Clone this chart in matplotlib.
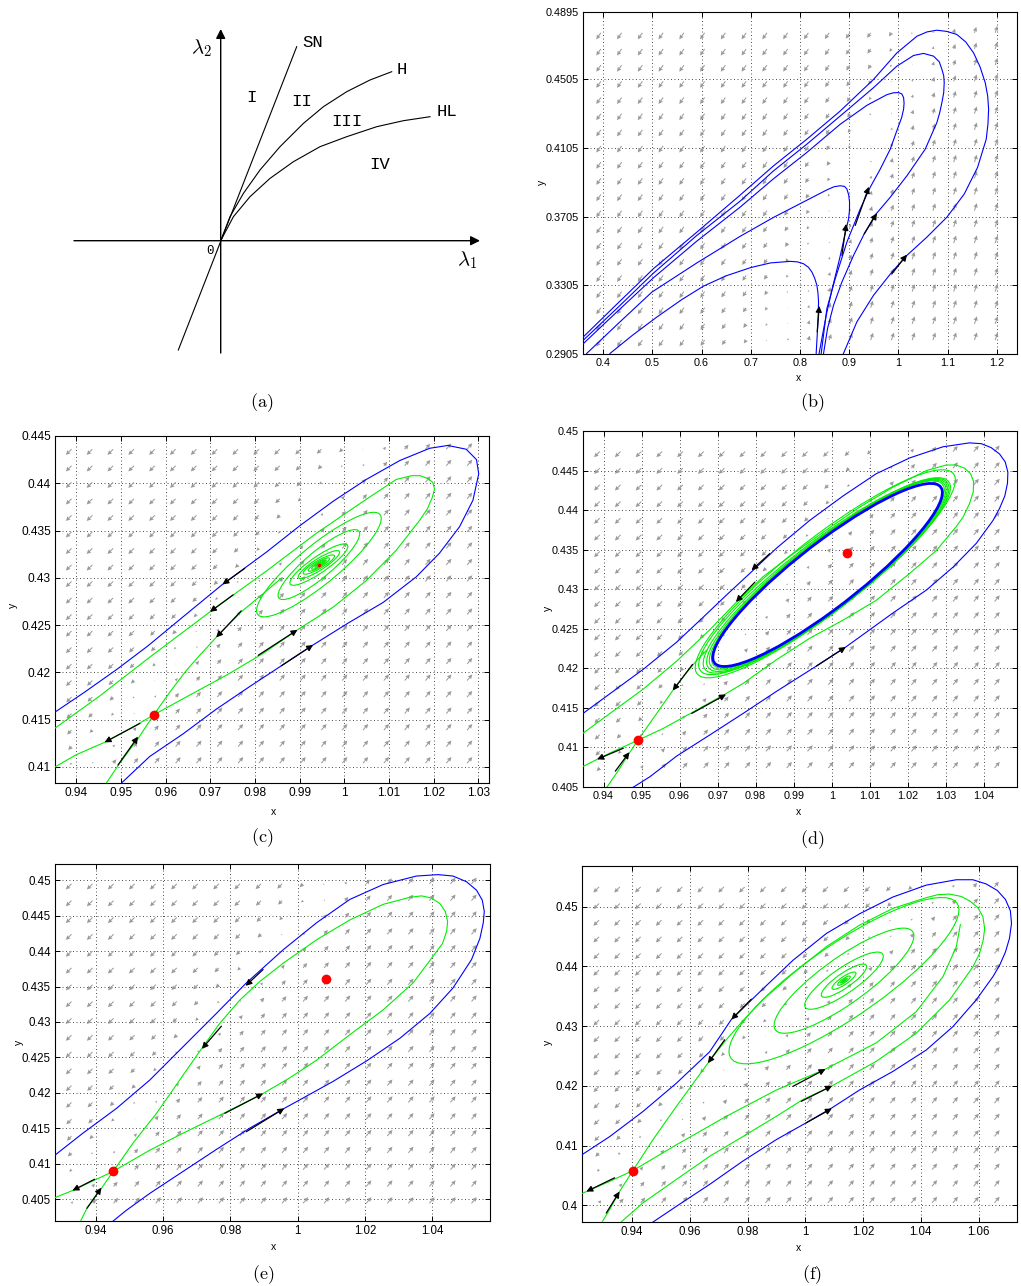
#!/usr/bin/env python3
import numpy as np
import matplotlib as mpl
import matplotlib.pyplot as plt
from matplotlib.patches import Ellipse

# ===== style =====
mpl.rcParams.update({
    "font.family": ["Liberation Sans", "DejaVu Sans"],
    "mathtext.fontset": "cm",
    "axes.linewidth": 0.8,
    "xtick.direction": "in",
    "ytick.direction": "in",
    "xtick.top": True,
    "ytick.right": True,
    "xtick.major.size": 3.5,
    "ytick.major.size": 3.5,
    "xtick.major.width": 0.7,
    "ytick.major.width": 0.7,
})

W_PX, H_PX = 1021, 1286
BLUE, GREEN, RED, FIELD = "#0000ff", "#00ee00", "#ff0000", "#9a9a9a"

# ===== (a) bifurcation diagram, lambda units =====
A_SN_L1 = [-0.424, 0.76]
A_SN_L2 = [-1.093, 1.94]
A_H_L1 = [0.0, 0.093, 0.227, 0.393, 0.593, 0.827, 1.027, 1.26, 1.493, 1.71]
A_H_L2 = [0.0, 0.24, 0.473, 0.707, 0.94, 1.173, 1.34, 1.49, 1.607, 1.69]
A_HL_L1 = [0.0, 0.127, 0.293, 0.493, 0.727, 0.993, 1.26, 1.56, 1.827, 2.093]
A_HL_L2 = [0.0, 0.24, 0.44, 0.623, 0.79, 0.94, 1.04, 1.14, 1.2, 1.24]
A_AXIS_L1 = [-1.467, 2.593]
A_AXIS_L2 = [-1.123, 2.117]
A_CURVE_NAMES = ["SN", "H", "HL"]
A_CURVE_L1 = [0.918, 1.81, 2.26]
A_CURVE_L2 = [1.98, 1.714, 1.29]
A_REGIONS = ["I", "II", "III", "IV"]
A_REGION_L1 = [0.31, 0.81, 1.26, 1.593]
A_REGION_L2 = [1.43, 1.39, 1.19, 0.764]

# ===== (b) =====
B_A_X = [0.3566, 0.4278, 0.5023, 0.5904, 0.6785, 0.7463, 0.8140, 0.8818, 0.9495, 0.9969, 1.0376,
         1.0580, 1.0782, 1.0985, 1.1189, 1.1370, 1.1528, 1.1660, 1.1765, 1.1815, 1.1833, 1.1820,
         1.1785, 1.1609, 1.1338, 1.0985, 1.0579, 1.0173, 0.9868, 0.9495, 0.9156, 0.8885, 0.8838]
B_A_Y = [0.2996, 0.3195, 0.3402, 0.3614, 0.3830, 0.4000, 0.4155, 0.4319, 0.4503, 0.4657, 0.4754,
         0.4779, 0.4789, 0.4782, 0.4764, 0.4720, 0.4657, 0.4575, 0.4483, 0.4405, 0.4329, 0.4245,
         0.4155, 0.3991, 0.3836, 0.3701, 0.3585, 0.3479, 0.3382, 0.3247, 0.3092, 0.2909, 0.2870]
B_B_X = [0.3566, 0.4278, 0.5023, 0.5904, 0.6785, 0.7463, 0.8140, 0.8818, 0.9495, 0.9969, 1.0308,
         1.0511, 1.0715, 1.0830, 1.0884, 1.0920, 1.0931, 1.0920, 1.0884, 1.0840, 1.0782, 1.0545,
         1.0173, 0.9834, 0.9529, 0.9305, 0.9089, 0.8852, 0.8682, 0.8560, 0.8479, 0.8465]
B_B_Y = [0.2977, 0.3170, 0.3376, 0.3595, 0.3795, 0.3971, 0.4126, 0.4290, 0.4455, 0.4580, 0.4642,
         0.4654, 0.4638, 0.4605, 0.4561, 0.4525, 0.4484, 0.4425, 0.4368, 0.4310, 0.4252, 0.4097,
         0.3942, 0.3817, 0.3714, 0.3604, 0.3479, 0.3324, 0.3189, 0.3054, 0.2909, 0.2870]
B_C_X = [0.3566, 0.4278, 0.5023, 0.5904, 0.6785, 0.7463, 0.8140, 0.8818, 0.9360, 0.9766, 0.9900,
         1.0003, 1.0070, 1.0105, 1.0115, 1.0105, 1.0065, 1.0003, 0.9834, 0.9631, 0.9427, 0.9224,
         0.8953, 0.8716, 0.8547, 0.8431, 0.8418]
B_C_Y = [0.2957, 0.3150, 0.3349, 0.3562, 0.3760, 0.3925, 0.4078, 0.4242, 0.4352, 0.4414, 0.4425,
         0.4426, 0.4418, 0.4397, 0.4365, 0.4329, 0.4280, 0.4232, 0.4097, 0.3981, 0.3875, 0.3749,
         0.3556, 0.3343, 0.3170, 0.2909, 0.2870]
B_D_X = [0.3634, 0.3668, 0.4278, 0.4989, 0.5904, 0.6785, 0.7463, 0.8140, 0.8547, 0.8690, 0.8818,
         0.8905, 0.8953, 0.8990, 0.9007, 0.9005, 0.8987, 0.8940, 0.8804, 0.8655, 0.8533, 0.8445, 0.8370]
B_D_Y = [0.2893, 0.2909, 0.3075, 0.3265, 0.3435, 0.3590, 0.3700, 0.3800, 0.3860, 0.3878, 0.3884,
         0.3880, 0.3865, 0.3830, 0.3788, 0.3740, 0.3691, 0.3633, 0.3459, 0.3285, 0.3131, 0.2996, 0.2880]
B_E_X = [0.4108, 0.4142, 0.4600, 0.5091, 0.5600, 0.6039, 0.6500, 0.7000, 0.7400, 0.7801, 0.7950,
         0.8072, 0.8170, 0.8242, 0.8300, 0.8343, 0.8365, 0.8377, 0.8370, 0.8350, 0.8323]
B_E_Y = [0.2893, 0.2909, 0.3015, 0.3120, 0.3222, 0.3300, 0.3360, 0.3408, 0.3435, 0.3444, 0.3441,
         0.3430, 0.3410, 0.3382, 0.3345, 0.3305, 0.3260, 0.3208, 0.3131, 0.3015, 0.2880]
B_ARROW_TAIL_X = [0.8350, 0.8852, 0.9122, 0.9305, 0.9868]
B_ARROW_TAIL_Y = [0.3034, 0.3479, 0.3653, 0.3604, 0.3372]
B_ARROW_HEAD_X = [0.8391, 0.8940, 0.9400, 0.9563, 1.0173]
B_ARROW_HEAD_Y = [0.3185, 0.3662, 0.3878, 0.3724, 0.3483]
B_YTICKS = [0.2905, 0.3305, 0.3705, 0.4105, 0.4505, 0.4895]

# ===== (c) =====
C_BLUE_X = [0.9340, 0.9352, 0.9415, 0.9490, 0.9560, 0.9642, 0.9727, 0.9825, 0.9900, 0.9975, 1.0049,
            1.0124, 1.0191, 1.0232, 1.0273, 1.0296, 1.0301, 1.0288, 1.0258, 1.0213, 1.0161, 1.0087,
            1.0008, 0.9930, 0.9859, 0.9788, 0.9713, 0.9639, 0.9564, 0.9501, 0.9490]
C_BLUE_Y = [0.4155, 0.4158, 0.4178, 0.4203, 0.4228, 0.4260, 0.4293, 0.4327, 0.4355, 0.4381,
            0.4404, 0.4424, 0.4437, 0.4440, 0.4436, 0.4425, 0.4410, 0.4382, 0.4354, 0.4326, 0.4301,
            0.4274, 0.4252, 0.4229, 0.4207, 0.4185, 0.4161, 0.4135, 0.4111, 0.4083, 0.4075]
C_OUTER_X = [0.9573, 0.9646, 0.9736, 0.9818, 0.9895, 0.9975, 1.0049, 1.0116, 1.0169, 1.0186, 1.0197,
             1.0202, 1.0198, 1.0187, 1.0170, 1.0150, 1.0116, 1.0049, 0.9937, 0.9825, 0.9699, 0.9564,
             0.9452, 0.9352, 0.9340]
C_OUTER_Y = [0.4155, 0.4174, 0.4197, 0.4220, 0.4245, 0.4269, 0.4297, 0.4329, 0.4361, 0.4373, 0.4385,
             0.4394, 0.4401, 0.4405, 0.4408, 0.4408, 0.4404, 0.4383, 0.4347, 0.4307, 0.4264, 0.4216,
             0.4175, 0.4141, 0.4136]
C_INNER_X = [0.9860, 0.9810, 0.9769, 0.9713, 0.9676, 0.9646, 0.9609, 0.9573]
C_INNER_Y = [0.4300, 0.4280, 0.4264, 0.4237, 0.4218, 0.4202, 0.4179, 0.4155]
C_LEFT_X = [0.9573, 0.9526, 0.9463, 0.9400, 0.9352, 0.9340]
C_LEFT_Y = [0.4155, 0.4142, 0.4126, 0.4113, 0.4100, 0.4097]
C_BOTTOM_X = [0.9456, 0.9467, 0.9497, 0.9538, 0.9573]
C_BOTTOM_Y = [0.4075, 0.4083, 0.4104, 0.4130, 0.4155]
C_FOCUS = (0.9943, 0.4314)
C_SADDLE = (0.9573, 0.4155)
C_LOOP_W = [0.01396, 0.00914, 0.00649, 0.00463, 0.00351, 0.00239, 0.00164, 0.0009, 0.00052]
C_LOOP_H = [0.00553, 0.00370, 0.00219, 0.00148, 0.00102, 0.000705, 0.000493, 0.00028, 0.00014]
C_LOOP_R = 0.88
C_ARROW_TAIL_X = [0.9777, 0.9751, 0.9769, 0.9807, 0.9859, 0.9542, 0.9493]
C_ARROW_TAIL_Y = [0.4310, 0.4282, 0.4265, 0.4218, 0.4207, 0.4146, 0.4102]
C_ARROW_HEAD_X = [0.9727, 0.9699, 0.9713, 0.9895, 0.9930, 0.9463, 0.9538]
C_ARROW_HEAD_Y = [0.4293, 0.4264, 0.4237, 0.4245, 0.4229, 0.4126, 0.4132]

# ===== (d) =====
D_BLUE_X = [0.9330, 0.9346, 0.9417, 0.9505, 0.9592, 0.9654, 0.9724, 0.9789, 0.9855, 0.9942, 1.0030,
            1.0117, 1.0205, 1.0292, 1.0362, 1.0393, 1.0419, 1.0441, 1.0456, 1.0463, 1.0462, 1.0455,
            1.0441, 1.0424, 1.0380, 1.0319, 1.0249, 1.0161, 1.0037, 0.9960, 0.9855, 0.9767, 0.9680,
            0.9592, 0.9522, 0.9479, 0.9461]
D_BLUE_Y = [0.4138, 0.4143, 0.4168, 0.4199, 0.4233, 0.4261, 0.4293, 0.4322, 0.4352, 0.4387, 0.4418,
            0.4446, 0.4466, 0.4480, 0.4485, 0.4484, 0.4479, 0.4471, 0.4461, 0.4448, 0.4434, 0.4418,
            0.4402, 0.4387, 0.4358, 0.4328, 0.4299, 0.4270, 0.4227, 0.4203, 0.4171, 0.4143, 0.4116,
            0.4089, 0.4063, 0.4050, 0.4045]
D_OUTER_X = [0.9330, 0.9346, 0.9417, 0.9505, 0.9592, 0.9680, 0.9750, 0.9820, 0.9899, 0.9986, 1.0074,
             1.0161, 1.0249, 1.0301, 1.0327, 1.0349, 1.0365, 1.0373, 1.0372, 1.0362, 1.0345, 1.0327,
             1.0275, 1.0205, 1.0117, 1.0030, 0.9942, 0.9855, 0.9767, 0.9722, 0.9636, 0.9557, 0.9490]
D_OUTER_Y = [0.4113, 0.4118, 0.4143, 0.4174, 0.4209, 0.4249, 0.4284, 0.4316, 0.4345, 0.4375, 0.4404,
             0.4429, 0.4450, 0.4457, 0.4457, 0.4453, 0.4446, 0.4436, 0.4423, 0.4408, 0.4391, 0.4379,
             0.4349, 0.4320, 0.4286, 0.4261, 0.4238, 0.4211, 0.4181, 0.4168, 0.4145, 0.4124, 0.4109]
D_INNER_X = [0.9490, 0.9531, 0.9582, 0.9619, 0.9645, 0.9671]
D_INNER_Y = [0.4109, 0.4137, 0.4172, 0.4195, 0.4210, 0.4223]
D_LEFT_X = [0.9490, 0.9417, 0.9346, 0.9330]
D_LEFT_Y = [0.4109, 0.4093, 0.4076, 0.4072]
D_BOTTOM_X = [0.9409, 0.9435, 0.9468, 0.9490]
D_BOTTOM_Y = [0.4050, 0.4068, 0.4093, 0.4109]
D_SADDLE = (0.9490, 0.4109)
D_FOCUS = (1.0039, 0.4346)
D_CYCLE = (0.9989, 0.4318, 0.03018, 0.01157)
D_LOOP_CX = [0.9990, 0.9989, 0.99875, 0.9985, 0.9981, 0.9983]
D_LOOP_CY = [0.43185, 0.4318, 0.43175, 0.4317, 0.43165, 0.43195]
D_LOOP_W = [0.0306, 0.0311, 0.03165, 0.0323, 0.0331, 0.0342]
D_LOOP_H = [0.01185, 0.0120, 0.01215, 0.0123, 0.01245, 0.01315]
D_LOOP_R = 0.9
D_ARROW_TAIL_X = [0.9837, 0.9798, 0.9634, 0.9632, 0.9960, 0.9452, 0.9431]
D_ARROW_TAIL_Y = [0.4345, 0.4309, 0.4205, 0.4143, 0.4203, 0.4099, 0.4070]
D_ARROW_HEAD_X = [0.9789, 0.9748, 0.9582, 0.9722, 1.0037, 0.9383, 0.9468]
D_ARROW_HEAD_Y = [0.4324, 0.4284, 0.4172, 0.4167, 0.4227, 0.4085, 0.4094]

# ===== (e) =====
E_BLUE_X = [0.9262, 0.9278, 0.9361, 0.9461, 0.9560, 0.9659, 0.9758, 0.9847, 0.9957, 1.0056, 1.0155,
            1.0254, 1.0353, 1.0418, 1.0462, 1.0502, 1.0532, 1.0549, 1.0555, 1.0552, 1.0542, 1.0517,
            1.0462, 1.0393, 1.0304, 1.0205, 1.0105, 1.0006, 0.9960, 0.9857, 0.9758, 0.9659, 0.9560,
            0.9490, 0.9451, 0.9431]
E_BLUE_Y = [0.4107, 0.4112, 0.4143, 0.4178, 0.4218, 0.4265, 0.4312, 0.4355, 0.4402, 0.4440, 0.4473,
            0.4494, 0.4506, 0.4508, 0.4506, 0.4498, 0.4486, 0.4472, 0.4456, 0.4440, 0.4418, 0.4388,
            0.4348, 0.4312, 0.4277, 0.4245, 0.4216, 0.4190, 0.4178, 0.4150, 0.4120, 0.4089, 0.4058,
            0.4034, 0.4019, 0.4011]
E_LOOP_X = [0.9451, 0.9510, 0.9580, 0.9649, 0.9715, 0.9768, 0.9828, 0.9887, 0.9957, 1.0056, 1.0155,
            1.0254, 1.0334, 1.0368, 1.0398, 1.0423, 1.0439, 1.0446, 1.0443, 1.0431, 1.0403, 1.0343,
            1.0254, 1.0155, 1.0056, 0.9976, 0.9897, 0.9788, 0.9659, 0.9560, 0.9451]
E_LOOP_Y = [0.4089, 0.4129, 0.4171, 0.4218, 0.4263, 0.4298, 0.4331, 0.4357, 0.4383, 0.4416, 0.4444,
            0.4466, 0.4476, 0.4478, 0.4475, 0.4467, 0.4456, 0.4442, 0.4428, 0.4411, 0.4393, 0.4355,
            0.4317, 0.4282, 0.4246, 0.4221, 0.4199, 0.4173, 0.4143, 0.4119, 0.4089]
E_LEFT_X = [0.9451, 0.9330, 0.9278, 0.9262]
E_LEFT_Y = [0.4089, 0.4062, 0.4052, 0.4048]
E_BOTTOM_X = [0.9346, 0.9373, 0.9416, 0.9451]
E_BOTTOM_Y = [0.4011, 0.4037, 0.4065, 0.4089]
E_SADDLE = (0.9451, 0.4089)
E_FOCUS = (1.0083, 0.4360)
E_ARROW_TAIL_X = [0.9897, 0.9773, 0.9783, 0.9847, 0.9396, 0.9373]
E_ARROW_TAIL_Y = [0.4374, 0.4294, 0.4171, 0.4145, 0.4078, 0.4037]
E_ARROW_HEAD_X = [0.9845, 0.9715, 0.9897, 0.9960, 0.9330, 0.9416]
E_ARROW_HEAD_Y = [0.4351, 0.4262, 0.4199, 0.4178, 0.4062, 0.4066]

# ===== (f) =====
F_BLUE_X = [0.9207, 0.9228, 0.9323, 0.9438, 0.9553, 0.9669, 0.9744, 0.9842, 0.9957, 1.0073, 1.0188,
            1.0303, 1.0419, 1.0523, 1.0580, 1.0626, 1.0665, 1.0693, 1.0710, 1.0714, 1.0707, 1.0693,
            1.0673, 1.0650, 1.0592, 1.0511, 1.0419, 1.0303, 1.0188, 1.0092, 1.0003, 0.9900, 0.9784,
            0.9669, 0.9553, 0.9473, 0.9450]
F_BLUE_Y = [0.4078, 0.4085, 0.4115, 0.4157, 0.4204, 0.4257, 0.4311, 0.4357, 0.4410, 0.4455, 0.4488,
            0.4516, 0.4536, 0.4545, 0.4545, 0.4538, 0.4527, 0.4512, 0.4493, 0.4472, 0.4447, 0.4424,
            0.4402, 0.4383, 0.4344, 0.4299, 0.4260, 0.4224, 0.4193, 0.4163, 0.4138, 0.4110, 0.4074,
            0.4035, 0.3998, 0.3972, 0.3965]
F_OUTER_X = [0.9346, 0.9438, 0.9553, 0.9669, 0.9784, 0.9900, 0.9992, 1.0093, 1.0246, 1.0384, 1.0500,
             1.0580, 1.0603, 1.0616, 1.0621, 1.0615, 1.0598, 1.0571, 1.0540, 1.0500, 1.0459, 1.0419,
             1.0303, 1.0188, 1.0073, 0.9957, 0.9853, 0.9784, 0.9721, 0.9663, 0.9553, 0.9473, 0.9403]
F_OUTER_Y = [0.3965, 0.4004, 0.4043, 0.4082, 0.4115, 0.4149, 0.4177, 0.4200, 0.4241, 0.4288, 0.4344,
             0.4399, 0.4421, 0.4444, 0.4463, 0.4483, 0.4498, 0.4509, 0.4517, 0.4521, 0.4520, 0.4515,
             0.4497, 0.4469, 0.4433, 0.4388, 0.4344, 0.4309, 0.4274, 0.4238, 0.4165, 0.4110, 0.4058]
F_SPIRAL_X = [0.9403, 0.9553, 0.9727, 0.9900, 1.0070, 1.0246, 1.0384, 1.0477, 1.0523, 1.0537]
F_SPIRAL_Y = [0.4058, 0.4101, 0.4149, 0.4193, 0.4228, 0.4272, 0.4324, 0.4383, 0.4433, 0.4470]
F_LEFT_X = [0.9403, 0.9323, 0.9242, 0.9207]
F_LEFT_Y = [0.4058, 0.4040, 0.4023, 0.4015]
F_BOTTOM_X = [0.9288, 0.9323, 0.9357, 0.9403]
F_BOTTOM_Y = [0.3965, 0.3993, 0.4023, 0.4058]
F_SADDLE = (0.9403, 0.4058)
F_FOCUS = (1.0134, 0.4376)
F_LOOP_W = [0.0398, 0.0242, 0.0136, 0.00785, 0.00415, 0.00219, 0.00115, 0.00058]
F_LOOP_H = [0.01392, 0.0088, 0.00479, 0.00278, 0.00145, 0.00078, 0.00039, 0.00022]
F_LOOP_R = 0.85
F_ARROW_TAIL_X = [0.9813, 0.9721, 0.9957, 0.9986, 1.0003, 0.9340, 0.9311]
F_ARROW_TAIL_Y = [0.4345, 0.4277, 0.4199, 0.4174, 0.4138, 0.4046, 0.3987]
F_ARROW_HEAD_X = [0.9744, 0.9663, 1.0070, 1.0093, 1.0092, 0.9242, 0.9357]
F_ARROW_HEAD_Y = [0.4311, 0.4238, 0.4228, 0.4200, 0.4162, 0.4023, 0.4023]


# ===== HELPERS =====
fig = plt.figure(figsize=(W_PX / 100, H_PX / 100), dpi=100)


def add_axes(box):
    l, t, r, b = box
    ax = fig.add_axes([l / W_PX, 1 - b / H_PX, (r - l) / W_PX, (b - t) / H_PX])
    return ax, (r - l), (b - t)


def fig_text(px, py, s, **kw):
    fig.text(px / W_PX, 1 - py / H_PX, s, ha="center", va="center", **kw)


def style_phase(ax, xlim, ylim, xticks, yticks, fs):
    ax.set_xlim(xlim)
    ax.set_ylim(ylim)
    ax.set_xticks(xticks)
    ax.set_yticks(yticks)
    ax.set_xticklabels([f"{v:g}" for v in xticks])
    ax.set_yticklabels([f"{v:g}" for v in yticks])
    ax.tick_params(labelsize=fs, pad=3)
    ax.grid(True, linestyle=(0, (1, 2.6)), color="0.3", lw=0.7)
    ax.set_axisbelow(True)


def draw_field(ax, xlim, ylim, wpx, hpx, gx, gy, p1, p2, ang_pos, ang_neg, band):
    X, Y = np.meshgrid(np.linspace(gx[0], gx[1], 20), np.linspace(gy[0], gy[1], 20))

    def to_px(x, y):
        return ((np.asarray(x) - xlim[0]) / (xlim[1] - xlim[0]) * wpx,
                (np.asarray(y) - ylim[0]) / (ylim[1] - ylim[0]) * hpx)

    px, py = to_px(X, Y)
    x1, y1 = to_px(*p1)
    x2, y2 = to_px(*p2)
    L = np.hypot(x2 - x1, y2 - y1)
    nx, ny = (y2 - y1) / L, -(x2 - x1) / L
    t = np.tanh(((px - x1) * nx + (py - y1) * ny) / band)
    ang = np.radians(np.where(t >= 0, ang_pos, ang_neg))
    U, V = np.abs(t) * np.cos(ang), np.abs(t) * np.sin(ang)
    ax.quiver(X, Y, U, V, angles="uv", scale_units="dots", scale=1 / 8, units="dots",
              width=1.0, headwidth=4.5, headlength=4.5, headaxislength=4, minlength=0.6,
              color=FIELD, zorder=1)


def loop(ax, cx, cy, w, h, r, color, lw=0.8):
    cov = np.array([[w * w, r * w * h], [r * w * h, h * h]])
    vals, vecs = np.linalg.eigh(cov)
    ang = np.degrees(np.arctan2(vecs[1, 1], vecs[0, 1]))
    ax.add_patch(Ellipse((cx, cy), 2 * np.sqrt(vals[1]), 2 * np.sqrt(vals[0]), angle=ang,
                         fill=False, ec=color, lw=lw, zorder=3))


def arrows(ax, tx, ty, hx, hy):
    for a, b, c, d in zip(tx, ty, hx, hy):
        ax.annotate("", xy=(c, d), xytext=(a, b),
                    arrowprops=dict(arrowstyle="-|>", color="k", lw=0.9, mutation_scale=9,
                                    shrinkA=0, shrinkB=0), zorder=5)


def curve(ax, x, y, color):
    ax.plot(x, y, color=color, lw=0.8, zorder=3, solid_joinstyle="round")


def dot(ax, p, ms=6):
    ax.plot(*p, "o", color=RED, ms=ms, mec=RED, zorder=6)


# ===== (a) =====
ax, _, _ = add_axes((60, 20, 490, 370))
ax.set_xlim(-1.607, 2.693)
ax.set_ylim(-1.293, 2.207)
ax.axis("off")
ax.annotate("", xy=(A_AXIS_L1[1], 0), xytext=(A_AXIS_L1[0], 0),
            arrowprops=dict(arrowstyle="-|>", color="k", lw=1.0, mutation_scale=14, shrinkA=0, shrinkB=0))
ax.annotate("", xy=(0, A_AXIS_L2[1]), xytext=(0, A_AXIS_L2[0]),
            arrowprops=dict(arrowstyle="-|>", color="k", lw=1.0, mutation_scale=14, shrinkA=0, shrinkB=0))
ax.plot(A_SN_L1, A_SN_L2, color="k", lw=0.8)
ax.plot(A_H_L1, A_H_L2, color="k", lw=0.8)
ax.plot(A_HL_L1, A_HL_L2, color="k", lw=0.8)
for s, u, v in zip(A_CURVE_NAMES + A_REGIONS, A_CURVE_L1 + A_REGION_L1, A_CURVE_L2 + A_REGION_L2):
    ax.text(u, v, s, ha="center", va="center", fontsize=12.5, family="Liberation Mono")
ax.text(-0.107, -0.10, "0", ha="center", va="center", fontsize=9, family="Liberation Mono")
ax.text(-0.19, 1.924, r"$\mathbf{\lambda}_{2}$", ha="center", va="center", fontsize=15)
ax.text(2.46, -0.193, r"$\mathbf{\lambda}_{1}$", ha="center", va="center", fontsize=15)

# ===== (b) =====
xl, yl = (0.359, 1.241), (0.2905, 0.4895)
ax, w, h = add_axes((583, 12, 1017, 354))
style_phase(ax, xl, yl, np.round(np.arange(0.4, 1.21, 0.1), 2), B_YTICKS, 7.8)
draw_field(ax, xl, yl, w, h, (0.3953, 1.1967), (0.2986, 0.4774), (0.75, 0.30), (1.05, 0.478), 72, 235, 45)
for x, y in [(B_A_X, B_A_Y), (B_B_X, B_B_Y), (B_C_X, B_C_Y), (B_D_X, B_D_Y), (B_E_X, B_E_Y)]:
    curve(ax, x, y, BLUE)
arrows(ax, B_ARROW_TAIL_X, B_ARROW_TAIL_Y, B_ARROW_HEAD_X, B_ARROW_HEAD_Y)

# ===== (c) =====
xl, yl = (0.9352, 1.0324), (0.4083, 0.445)
ax, w, h = add_axes((55, 436, 489, 783))
style_phase(ax, xl, yl, np.round(np.arange(0.94, 1.031, 0.01), 2), np.round(np.arange(0.41, 0.4451, 0.005), 3), 8.6)
draw_field(ax, xl, yl, w, h, (0.9389, 1.0275), (0.4104, 0.4436), (0.96, 0.42), (1.005, 0.4436), 50, 225, 30)
curve(ax, C_BLUE_X, C_BLUE_Y, BLUE)
for x, y in [(C_OUTER_X, C_OUTER_Y), (C_INNER_X, C_INNER_Y), (C_LEFT_X, C_LEFT_Y), (C_BOTTOM_X, C_BOTTOM_Y)]:
    curve(ax, x, y, GREEN)
for lw_, lh in zip(C_LOOP_W, C_LOOP_H):
    loop(ax, C_FOCUS[0], C_FOCUS[1], lw_, lh, C_LOOP_R, GREEN)
arrows(ax, C_ARROW_TAIL_X, C_ARROW_TAIL_Y, C_ARROW_HEAD_X, C_ARROW_HEAD_Y)
dot(ax, C_SADDLE)
dot(ax, C_FOCUS, ms=1.5)

# ===== (d) =====
xl, yl = (0.9346, 1.0487), (0.405, 0.45)
ax, w, h = add_axes((583, 431, 1017, 787))
style_phase(ax, xl, yl, np.round(np.arange(0.94, 1.041, 0.01), 2), np.round(np.arange(0.405, 0.4501, 0.005), 3), 7.8)
draw_field(ax, xl, yl, w, h, (0.9390, 1.0428), (0.4074, 0.4474), (0.95, 0.41), (1.015, 0.447), 50, 225, 30)
curve(ax, D_BLUE_X, D_BLUE_Y, BLUE)
for x, y in [(D_OUTER_X, D_OUTER_Y), (D_INNER_X, D_INNER_Y), (D_LEFT_X, D_LEFT_Y), (D_BOTTOM_X, D_BOTTOM_Y)]:
    curve(ax, x, y, GREEN)
for cx, cy, lw_, lh in zip(D_LOOP_CX, D_LOOP_CY, D_LOOP_W, D_LOOP_H):
    loop(ax, cx, cy, lw_, lh, D_LOOP_R, GREEN)
loop(ax, D_CYCLE[0], D_CYCLE[1], D_CYCLE[2], D_CYCLE[3], D_LOOP_R, BLUE, lw=2.0)
arrows(ax, D_ARROW_TAIL_X, D_ARROW_TAIL_Y, D_ARROW_HEAD_X, D_ARROW_HEAD_Y)
dot(ax, D_SADDLE)
dot(ax, D_FOCUS)

# ===== (e) =====
xl, yl = (0.9278, 1.0572), (0.4019, 0.4523)
ax, w, h = add_axes((55, 864, 490, 1221))
style_phase(ax, xl, yl, np.round(np.arange(0.94, 1.041, 0.02), 2), np.round(np.arange(0.405, 0.4501, 0.005), 3), 8.3)
draw_field(ax, xl, yl, w, h, (0.9327, 1.0517), (0.4044, 0.4495), (0.93, 0.405), (1.01, 0.4495), 50, 225, 30)
curve(ax, E_BLUE_X, E_BLUE_Y, BLUE)
for x, y in [(E_LOOP_X, E_LOOP_Y), (E_LEFT_X, E_LEFT_Y), (E_BOTTOM_X, E_BOTTOM_Y)]:
    curve(ax, x, y, GREEN)
arrows(ax, E_ARROW_TAIL_X, E_ARROW_TAIL_Y, E_ARROW_HEAD_X, E_ARROW_HEAD_Y)
dot(ax, E_SADDLE)
dot(ax, E_FOCUS)

# ===== (f) =====
xl, yl = (0.9227, 1.0733), (0.3972, 0.4568)
ax, w, h = add_axes((582, 866, 1017, 1222))
style_phase(ax, xl, yl, np.round(np.arange(0.94, 1.061, 0.02), 2), np.round(np.arange(0.40, 0.4501, 0.01), 2), 8.3)
draw_field(ax, xl, yl, w, h, (0.9286, 1.0655), (0.4004, 0.4533), (0.93, 0.404), (1.045, 0.453), 50, 225, 30)
curve(ax, F_BLUE_X, F_BLUE_Y, BLUE)
for x, y in [(F_OUTER_X, F_OUTER_Y), (F_SPIRAL_X, F_SPIRAL_Y), (F_LEFT_X, F_LEFT_Y), (F_BOTTOM_X, F_BOTTOM_Y)]:
    curve(ax, x, y, GREEN)
for lw_, lh in zip(F_LOOP_W, F_LOOP_H):
    loop(ax, F_FOCUS[0], F_FOCUS[1], lw_, lh, F_LOOP_R, GREEN)
arrows(ax, F_ARROW_TAIL_X, F_ARROW_TAIL_Y, F_ARROW_HEAD_X, F_ARROW_HEAD_Y)
dot(ax, F_SADDLE)

# ===== axis labels and captions =====
for px, py in [(799, 378), (273, 812), (799, 812), (273, 1247), (799, 1248)]:
    fig_text(px, py, "x", fontsize=7.5)
for px, py in [(542, 182), (13, 605), (548, 608), (19, 1042), (548, 1042)]:
    fig_text(px, py, "y", fontsize=7.5, rotation=90)
for s, px, py in [("a", 262, 403), ("b", 812, 403), ("c", 262, 838),
                  ("d", 812, 840), ("e", 263, 1275), ("f", 812, 1275)]:
    fig_text(px, py, rf"$\mathrm{{({s})}}$", fontsize=13)

fig.savefig("out.png", dpi=100)
